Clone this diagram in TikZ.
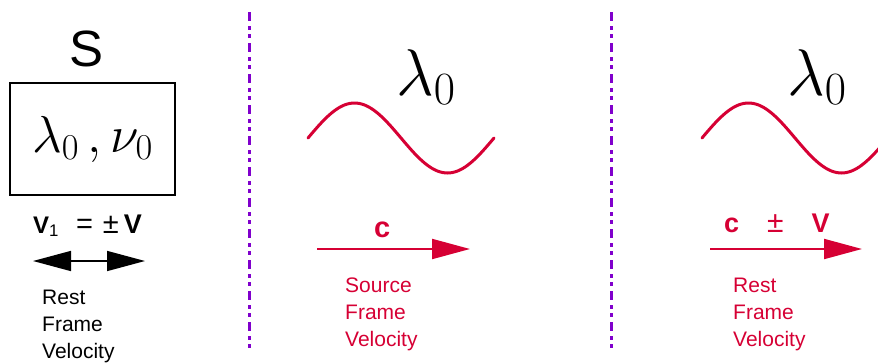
\RequirePackage{fix-cm}
\documentclass[tikz,border=0pt]{standalone}
\usepackage[no-math]{fontspec}
\setmainfont{Liberation Sans}
\usetikzlibrary{arrows.meta,positioning}
\definecolor{wavered}{RGB}{214,0,52}
\definecolor{divpurple}{RGB}{128,0,204}

\begin{document}
\begin{tikzpicture}[x=1pt, y=-1pt,
    wave/.style={wavered, line width=3pt, line join=round, line cap=round},
    srcbox/.style={rectangle, draw, line width=1.5pt, minimum width=165pt, minimum height=112pt, inner sep=0pt, font=\fontsize{52}{60}\selectfont},
    lam/.style={anchor=base west, inner sep=0pt, font=\fontsize{66}{74}\selectfont},
    note/.style={anchor=north west, inner sep=0pt, align=left, font=\fontsize{21}{27}\selectfont},
    speed/.style={anchor=base west, inner sep=0pt},
    dblarrow/.style={{Triangle[length=38pt,width=20pt]}-{Triangle[length=38pt,width=20pt]}, line width=1.5pt},
    redarrow/.style={-{Triangle[length=38pt,width=20pt]}, wavered, line width=2pt},
    divider/.style={divpurple, line width=3pt, dash pattern=on 9pt off 5pt on 4pt off 4pt on 4pt off 5pt}
]
\useasboundingbox (0,0) rectangle (878,364);

% Source at rest
\node[anchor=base, inner sep=0pt, font=\fontsize{51}{60}\selectfont] (frameS) at (87,66) {S};
\node[srcbox] (source) at (92.5,139) {$\lambda_0\,,\nu_0$};
\node[speed, font=\fontsize{24}{28}\selectfont] (vone) at (33,233)
    {\textbf{V}\textsubscript{1}\hspace{17pt}{\fontsize{29}{30}\selectfont =}\hspace{10pt}{\fontsize{29}{30}\selectfont ±}\hspace{5pt}{\fontsize{27}{30}\selectfont\textbf{V}}};
\coordinate (vleft) at (33,261);
\coordinate (vright) at (145,261);
\draw[dblarrow] (vleft) -- (vright);
\node[note] (restL) at (42,290) {Rest\\Frame\\Velocity};

% Dividers
\coordinate (divAtop) at (249,12);
\coordinate (divAbot) at (249,348);
\coordinate (divBtop) at (611,12);
\coordinate (divBbot) at (611,348);
\draw[divider] (divAtop) -- (divAbot);
\draw[divider] (divBtop) -- (divBbot);

% Source frame
\node[lam] (lamM) at (396,95) {$\lambda_0$};
\draw[wave] plot[smooth, domain=0:360, samples=73] ({308+0.5167*\x}, {138-35*sin(\x)});
\node[speed, wavered, font=\bfseries\fontsize{29}{32}\selectfont] (cM) at (374,237) {c};
\coordinate (arMs) at (317,249);
\coordinate (arMe) at (470,249);
\draw[redarrow] (arMs) -- (arMe);
\node[note, wavered] (srcnote) at (345,278) {Source\\Frame\\Velocity};

% Rest frame
\node[lam] (lamR) at (787,95) {$\lambda_0$};
\begin{scope}
\clip (0,0) rectangle (878,364);
\draw[wave] plot[smooth, domain=0:360, samples=73] ({702+0.5167*\x}, {138-35*sin(\x)});
\end{scope}
\node[speed, wavered, font=\fontsize{27}{30}\selectfont] (cR) at (724,232)
    {\textbf{c}\hspace{28pt}{\fontsize{30}{32}\selectfont ±}\hspace{28pt}\textbf{V}};
\coordinate (arRs) at (710,249);
\coordinate (arRe) at (862,249);
\draw[redarrow] (arRs) -- (arRe);
\node[note, wavered] (restnote) at (733,278) {Rest\\Frame\\Velocity};

\end{tikzpicture}
\end{document}
